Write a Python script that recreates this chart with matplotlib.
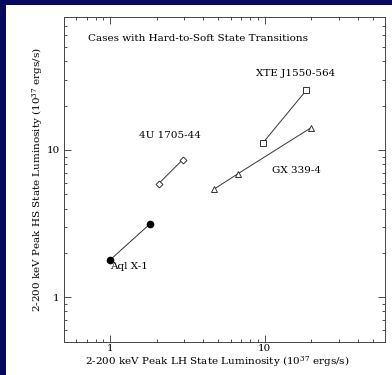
import matplotlib
matplotlib.use('Agg')
import matplotlib.pyplot as plt
from matplotlib.patches import Rectangle
from matplotlib.ticker import LogLocator, NullFormatter, FixedLocator, FixedFormatter

plt.rcParams['font.family'] = ['DejaVu Serif']
plt.rcParams['mathtext.fontset'] = 'dejavuserif'

# 数据: (LH 峰值光度, HS 峰值光度)
aql_lh = [1.0, 1.8]
aql_hs = [1.8, 3.14]
u1705_lh = [2.05, 2.94]
u1705_hs = [5.9, 8.6]
gx339_lh = [4.66, 6.7, 20.0]
gx339_hs = [5.4, 6.9, 14.2]
xte_lh = [9.66, 18.6]
xte_hs = [11.1, 25.5]

x_ticks = [1, 10]
x_tick_labels = ['1', '10']
y_ticks = [1, 10]
y_tick_labels = ['1', '10']

fig = plt.figure(figsize=(3.92, 3.75), dpi=100)
fig.patch.set_facecolor('#08085c')
# 白色幻灯片区域
fig.add_artist(Rectangle((6 / 392, 0), 1, 370 / 375, transform=fig.transFigure,
                         facecolor='white', edgecolor='none', zorder=0))

ax = fig.add_axes([64 / 392, 33.5 / 375, 321 / 392, 324.5 / 375])
ax.set_facecolor('white')
ax.set_xscale('log')
ax.set_yscale('log')
ax.set_xlim(0.5, 60)
ax.set_ylim(0.5, 80)

lc = '#333333'
ax.plot(aql_lh, aql_hs, '-', color=lc, lw=0.7, marker='o', ms=4.5,
        mfc='black', mec='black')
ax.plot(u1705_lh, u1705_hs, '-', color=lc, lw=0.7, marker='D', ms=3.5,
        mfc='white', mec=lc, mew=0.7)
ax.plot(gx339_lh, gx339_hs, '-', color=lc, lw=0.7, marker='^', ms=5,
        mfc='white', mec=lc, mew=0.7)
ax.plot(xte_lh, xte_hs, '-', color=lc, lw=0.7, marker='s', ms=5,
        mfc='white', mec=lc, mew=0.7)

fs = 7.5
ax.text(1.0, 1.62, 'Aql X-1', fontsize=fs, ha='left', va='center')
ax.text(1.52, 12.5, '4U 1705-44', fontsize=fs, ha='left', va='center')
ax.text(11.1, 7.3, 'GX 339-4', fontsize=fs, ha='left', va='center')
ax.text(8.75, 33, 'XTE J1550-564', fontsize=fs, ha='left', va='center')
ax.text(0.075, 0.935, 'Cases with Hard-to-Soft State Transitions', fontsize=fs,
        ha='left', va='center', transform=ax.transAxes)

ax.xaxis.set_major_locator(FixedLocator(x_ticks))
ax.xaxis.set_major_formatter(FixedFormatter(x_tick_labels))
ax.yaxis.set_major_locator(FixedLocator(y_ticks))
ax.yaxis.set_major_formatter(FixedFormatter(y_tick_labels))
ax.xaxis.set_minor_locator(LogLocator(base=10, subs=range(2, 10)))
ax.yaxis.set_minor_locator(LogLocator(base=10, subs=range(2, 10)))
ax.xaxis.set_minor_formatter(NullFormatter())
ax.yaxis.set_minor_formatter(NullFormatter())

ax.tick_params(which='both', direction='in', top=True, right=True,
               labelsize=fs, color='#333333', width=0.6, pad=3)
ax.tick_params(axis='x', which='major', pad=2)
ax.tick_params(which='major', length=5)
ax.tick_params(which='minor', length=2.5)
for s in ax.spines.values():
    s.set_linewidth(0.7)
    s.set_color('#444444')

ax.set_xlabel('2-200 keV Peak LH State Luminosity ($10^{37}$ ergs/s)',
              fontsize=fs, va='center')
ax.xaxis.set_label_coords(0.477, -0.062)
ax.set_ylabel('2-200 keV Peak HS State Luminosity ($10^{37}$ ergs/s)',
              fontsize=fs, labelpad=1)

plt.savefig('out.png', dpi=100, facecolor=fig.get_facecolor())
